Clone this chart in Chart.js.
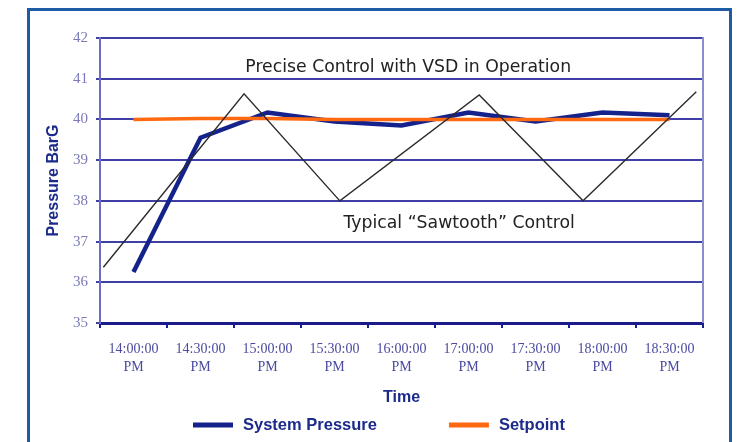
<!DOCTYPE html>
<html>
<head>
<meta charset="utf-8">
<title>Pressure control</title>
<script src="https://cdn.jsdelivr.net/npm/chart.js@4.4.1/dist/chart.umd.min.js"></script>
<style>
    html, body { margin: 0; padding: 0; background: #fff; overflow: hidden; }
    #wrap { position: relative; width: 744px; height: 442px; }
    #frame
    {
        position: absolute; left: 27px; top: 8px; width: 705px; height: 470px;
        border: 3px solid #1d5ba6; box-sizing: border-box; pointer-events: none;
    }
</style>
</head>
<body>
<div id="wrap">
    <canvas id="pressureChart" width="744" height="442"></canvas>
    <div id="frame"></div>
</div>
<script>
// Datos
const times =
[
    ['14:00:00', 'PM'], ['14:30:00', 'PM'], ['15:00:00', 'PM'],
    ['15:30:00', 'PM'], ['16:00:00', 'PM'], ['17:00:00', 'PM'],
    ['17:30:00', 'PM'], ['18:00:00', 'PM'], ['18:30:00', 'PM']
];
const systemPressure = [36.25, 39.55, 40.17, 39.95, 39.85, 40.17, 39.95, 40.17, 40.1];
const setpoint = [40, 40.02, 40.02, 40, 40, 40, 40, 40, 40];

// Diente de sierra: posicion en unidades de categoria (0 = 14:00)
const sawtoothX = [-0.45, 1.65, 3.08, 5.16, 6.71, 8.4];
const sawtoothY = [36.37, 40.63, 38.0, 40.6, 38.0, 40.68];

const yMin = 35;
const yMax = 42;

const notes =
[
    { text: 'Precise Control with VSD in Operation', x: 4.1, y: 41.27 },
    { text: 'Typical \u201cSawtooth\u201d Control', x: 4.86, y: 37.44 }
];

const navy = '#15228c';
const orange = '#ff6a10';
const titleColor = '#1c2a8c';

const decor =
{
    id: 'decor',
    afterDatasetsDraw(chart)
    {
        const { ctx, chartArea } = chart;
        const xs = chart.scales.x2;
        const ys = chart.scales.y;

        // Borde derecho del area de trazado
        ctx.save();
        ctx.strokeStyle = '#8c8cd0';
        ctx.lineWidth = 2;
        ctx.beginPath();
        ctx.moveTo(chartArea.right, chartArea.top - 1);
        ctx.lineTo(chartArea.right, chartArea.bottom);
        ctx.stroke();

        ctx.fillStyle = '#222';
        ctx.font = '17.3px "DejaVu Sans"';
        ctx.textAlign = 'center';
        ctx.textBaseline = 'middle';
        notes.forEach((n) =>
        {
            ctx.fillText(n.text, xs.getPixelForValue(n.x), ys.getPixelForValue(n.y));
        });
        ctx.restore();
    },
    afterDraw(chart)
    {
        // Leyenda: solo las dos primeras series
        const { ctx, chartArea } = chart;
        const items = chart.data.datasets.slice(0, 2);
        const y = chart.height - 17;
        let x = chartArea.left + 93;

        ctx.save();
        ctx.font = 'bold 16.5px "Liberation Sans"';
        ctx.textBaseline = 'middle';
        ctx.textAlign = 'left';
        items.forEach((ds) =>
        {
            ctx.strokeStyle = ds.borderColor;
            ctx.lineWidth = 5;
            ctx.beginPath();
            ctx.moveTo(x, y);
            ctx.lineTo(x + 40, y);
            ctx.stroke();
            ctx.fillStyle = titleColor;
            ctx.fillText(ds.label, x + 50, y);
            x += 50 + ctx.measureText(ds.label).width + 72;
        });
        ctx.restore();
    }
};

new Chart(document.getElementById('pressureChart'),
{
    type: 'line',
    data:
    {
        labels: times,
        datasets:
        [
            {
                label: 'System Pressure',
                data: systemPressure,
                borderColor: navy,
                backgroundColor: navy,
                borderWidth: 4.5,
                pointRadius: 0,
                tension: 0,
                order: 3
            },
            {
                label: 'Setpoint',
                data: setpoint,
                borderColor: orange,
                backgroundColor: orange,
                borderWidth: 3.5,
                pointRadius: 0,
                tension: 0,
                order: 2
            },
            {
                label: 'Sawtooth',
                data: sawtoothX.map((v, i) => ({ x: v, y: sawtoothY[i] })),
                xAxisID: 'x2',
                borderColor: '#2a2a2a',
                borderWidth: 1.4,
                pointRadius: 0,
                tension: 0,
                order: 1
            }
        ]
    },
    options:
    {
        responsive: false,
        animation: false,
        layout: { padding: { left: 30, right: 41, top: 38, bottom: 35 } },
        plugins:
        {
            legend: { display: false },
            tooltip: { enabled: false }
        },
        scales:
        {
            x:
            {
                type: 'category',
                offset: true,
                afterFit: (s) => { s.height = 84; },
                grid:
                {
                    offset: true,
                    drawOnChartArea: false,
                    color: navy,
                    tickLength: 5,
                    lineWidth: 2
                },
                border: { color: '#1a1a8a', width: 3 },
                ticks:
                {
                    padding: 13,
                    maxRotation: 0,
                    autoSkip: false,
                    color: '#4a4aa0',
                    font: { family: '"Liberation Serif"', size: 14, lineHeight: 1.25 }
                },
                title:
                {
                    display: true,
                    text: 'Time',
                    color: titleColor,
                    padding: { top: 0, bottom: 0 },
                    font: { family: '"Liberation Sans"', size: 16, weight: 'bold' }
                }
            },
            x2:
            {
                type: 'linear',
                display: false,
                min: -0.5,
                max: 8.5
            },
            y:
            {
                min: yMin,
                max: yMax,
                afterFit: (s) => { s.width = 70; },
                grid: { color: '#3f3fa6', lineWidth: 2, tickLength: 4 },
                border: { color: '#6c6cc0', width: 2 },
                ticks:
                {
                    stepSize: 1,
                    padding: 8,
                    color: '#7a7ab8',
                    font: { family: '"Liberation Serif"', size: 15 }
                },
                title:
                {
                    display: true,
                    text: 'Pressure BarG',
                    color: titleColor,
                    padding: { top: 14, bottom: 0 },
                    font: { family: '"Liberation Sans"', size: 16, weight: 'bold' }
                }
            }
        }
    },
    plugins: [decor]
});
</script>
</body>
</html>
